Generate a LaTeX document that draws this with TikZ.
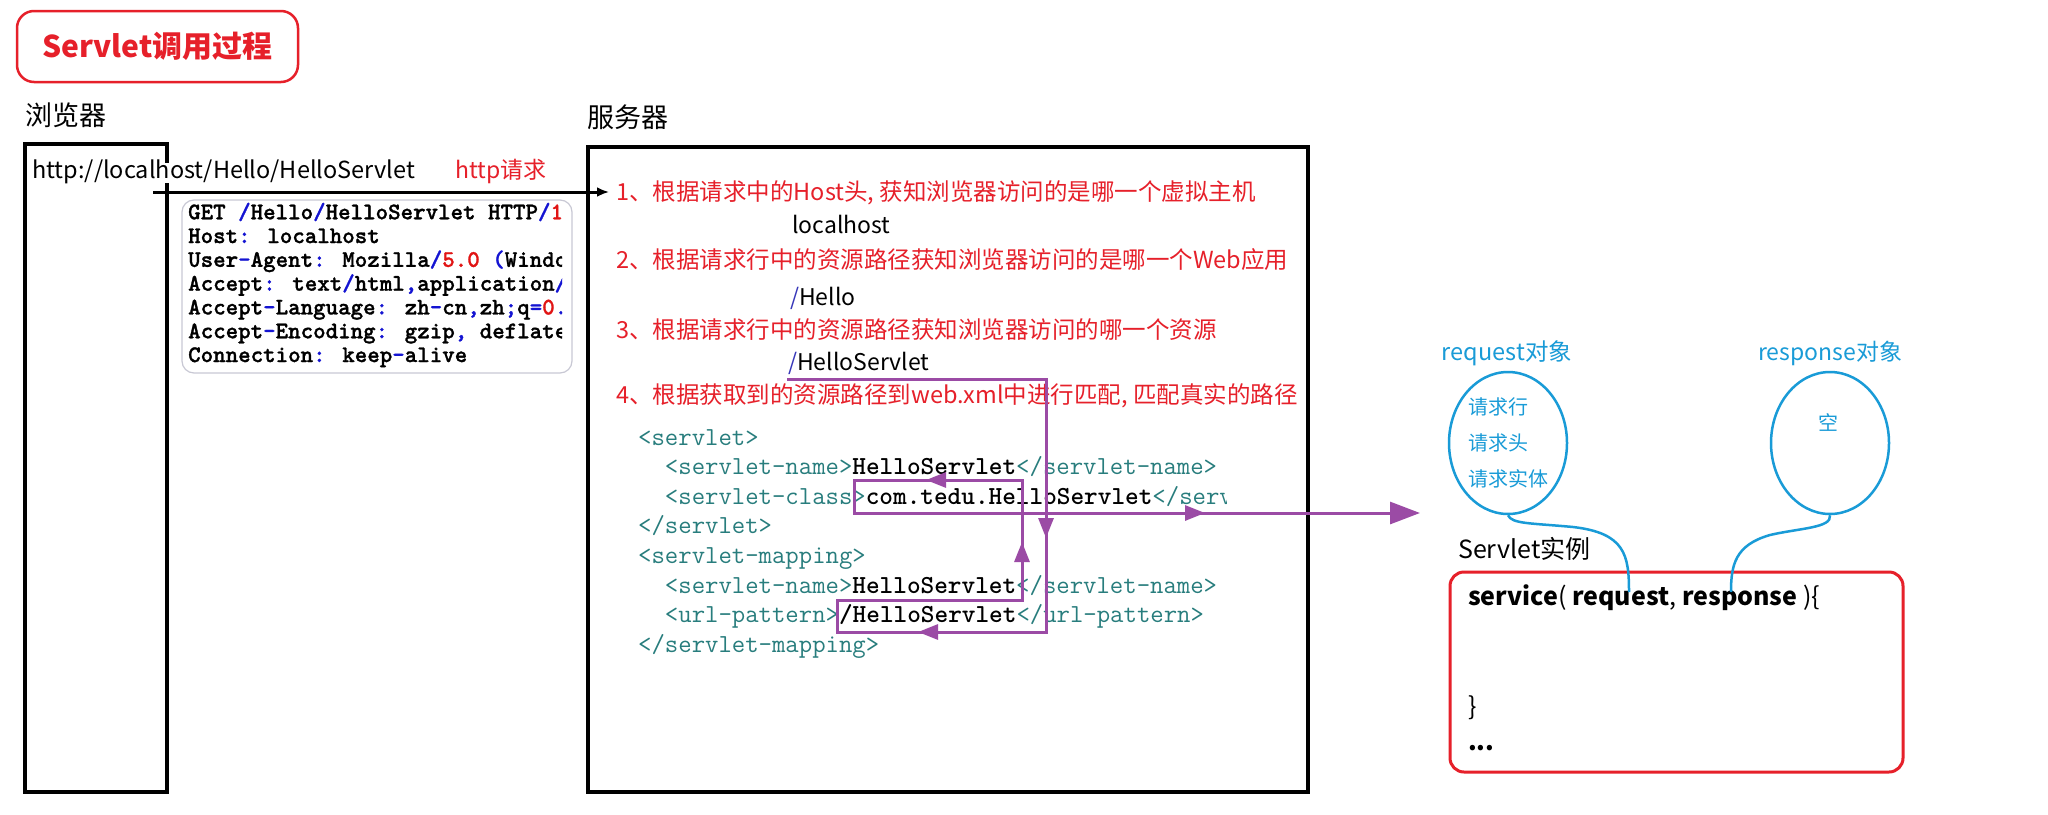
\documentclass[tikz,border=0pt]{standalone}
\usepackage{fontspec}
\setmainfont{Noto Sans CJK SC}
\newfontfamily\httpmono{lmmonolt10-bold.otf}[FakeBold=1.2]
\usetikzlibrary{arrows.meta,shapes.geometric,decorations.markings}

\definecolor{titlered}{RGB}{230,32,42}
\definecolor{objblue}{RGB}{25,155,215}
\definecolor{linkpurple}{RGB}{155,75,165}
\definecolor{xmlteal}{RGB}{40,125,125}
\definecolor{punctblue}{RGB}{20,20,210}
\definecolor{numred}{RGB}{225,20,20}
\definecolor{slashblue}{RGB}{55,55,185}
\definecolor{boxgray}{RGB}{200,200,212}

\newcommand{\pxsize}[1]{\fontsize{#1}{#1}\selectfont}
\newcommand{\hp}[1]{\textcolor{punctblue}{#1}}
\newcommand{\hn}[1]{\textcolor{numred}{#1}}
\newcommand{\xtag}[1]{\textcolor{xmlteal}{#1}}
\newcommand{\xval}[1]{\textbf{#1}}

\tikzset{
    txt/.style={anchor=west, inner sep=0pt, text height=1em, text depth=0em},
    monotxt/.style={anchor=west, inner sep=0pt, text height=0.85em, text depth=0em},
    steptxt/.style={txt, text=titlered, font=\pxsize{23.5}},
    anstxt/.style={txt, font=\pxsize{23}},
    framebox/.style={draw, line width=3.5pt, inner sep=0pt},
    titlebox/.style={draw=titlered, line width=2.5pt, rounded corners=17pt,
        minimum width=281pt, minimum height=71pt, text=titlered,
        font=\pxsize{30}\bfseries},
    objellipse/.style={ellipse, draw=objblue, line width=2.5pt, inner sep=0pt,
        minimum width=118pt, minimum height=142pt},
    objline/.style={draw=objblue, line width=2.5pt},
    link/.style={draw=linkpurple, line width=3pt, line join=miter},
    mid/.tip={Triangle[length=20pt,width=15pt]},
}

\begin{document}
\begin{tikzpicture}[x=1pt, y=-1pt]
    \fill[white] (0,0) rectangle (2048,814);
    \useasboundingbox (0,0) rectangle (2048,814);

    % title
    \node[titlebox] (title) at (157.5,46.5) {Servlet调用过程};

    % browser
    \node[txt, font=\pxsize{27}] (browserlabel) at (25,120) {浏览器};
    \node[framebox, minimum width=142pt, minimum height=648pt] (browser) at (96,468) {};
    \node[txt, fill=white, inner ysep=5pt, font=\pxsize{23.5}] (url) at (32,173) {http://localhost/Hello/HelloServlet};
    \node[txt, font=\pxsize{23}, text=titlered] (httpreq) at (455,173) {http请求};

    % request message
    \node[draw=boxgray, line width=1.2pt, rounded corners=12pt,
        minimum width=390pt, minimum height=173pt] (httpbox) at (377,286.5) {};
    \begin{scope}
        \clip (182,200) rectangle (562,373);
        \foreach \ln [count=\i from 0] in {
            {GET \hp{/}Hello\hp{/}HelloServlet HTTP\hp{/}\hn{1}},
            {Host\hp{:} localhost},
            {User\hp{-}Agent\hp{:} Mozilla\hp{/}\hn{5.0} \hp{(}Windo},
            {Accept\hp{:} text\hp{/}html\hp{,}application\hp{/}},
            {Accept\hp{-}Language\hp{:} zh\hp{-}cn\hp{,}zh\hp{;}q\hp{=}\hn{0}\hp{.}},
            {Accept\hp{-}Encoding\hp{:} gzip\hp{,} deflate},
            {Connection\hp{:} keep\hp{-}alive}}
            \node[monotxt, font=\httpmono\pxsize{23.8}] (httpline\i) at (188,215+23.8*\i) {\ln};
    \end{scope}

    % request arrow
    \coordinate (reqstart) at (153,192);
    \coordinate (reqend) at (609,192);
    \draw[line width=3pt, -{Latex[length=12pt,width=10pt]}] (reqstart) -- (reqend);

    % server
    \node[txt, font=\pxsize{27}] (serverlabel) at (587,122) {服务器};
    \node[framebox, minimum width=720pt, minimum height=645pt] (server) at (948,469.5) {};

    \node[steptxt] (step1) at (616,195) {1、根据请求中的Host头, 获知浏览器访问的是哪一个虚拟主机};
    \node[anstxt] (ans1) at (792,228) {localhost};
    \node[steptxt] (step2) at (616,263) {2、根据请求行中的资源路径获知浏览器访问的是哪一个Web应用};
    \node[anstxt] (ans2) at (790,300) {\textcolor{slashblue}{/}Hello};
    \node[steptxt] (step3) at (616,333) {3、根据请求行中的资源路径获知浏览器访问的哪一个资源};
    \node[anstxt] (ans3) at (788,365) {\textcolor{slashblue}{/}HelloServlet};
    \node[steptxt] (step4) at (616,398) {4、根据获取到的资源路径到web.xml中进行匹配, 匹配真实的路径};

    % web.xml
    \begin{scope}
        \clip (600,420) rectangle (1226,670);
        \foreach \ln [count=\i from 0] in {
            {\xtag{<servlet>}},
            {\phantom{xx}\xtag{<servlet-name>}\xval{HelloServlet}\xtag{</servlet-name>}},
            {\phantom{xx}\xtag{<servlet-class>}\xval{com.tedu.HelloServlet}\xtag{</serv}},
            {\xtag{</servlet>}},
            {\xtag{<servlet-mapping>}},
            {\phantom{xx}\xtag{<servlet-name>}\xval{HelloServlet}\xtag{</servlet-name>}},
            {\phantom{xx}\xtag{<url-pattern>}\xval{/HelloServlet}\xtag{</url-pattern>}},
            {\xtag{</servlet-mapping>}}}
            \node[txt, font=\ttfamily\pxsize{26}] (xmlline\i) at (638,440+29.6*\i) {\ln};
    \end{scope}

    % matching path
    \coordinate (urlunder) at (787,379);
    \coordinate (urlturn) at (1046,379);
    \coordinate (patbr) at (1046,632);
    \coordinate (patbl) at (837,632);
    \coordinate (pattl) at (837,600);
    \coordinate (namebr) at (1022,600);
    \coordinate (classtr) at (1022,480);
    \coordinate (classtl) at (854,480);
    \coordinate (classbl) at (854,513);
    \coordinate (toinst) at (1420,513);
    \draw[link, -{Triangle[length=30pt,width=22pt]}, postaction={decorate},
        decoration={markings,
            mark=at position 418pt with {\arrow{mid}},
            mark=at position 640pt with {\arrow{mid}},
            mark=at position 996pt with {\arrow{mid}},
            mark=at position 1154pt with {\arrow{mid}},
            mark=at position 1610pt with {\arrow{mid}}}]
        (urlunder) -- (urlturn) -- (patbr) -- (patbl) -- (pattl) -- (namebr)
        -- (classtr) -- (classtl) -- (classbl) -- (toinst);

    % request / response objects
    \node[font=\pxsize{23.5}, text=objblue] (reqlabel) at (1507,353) {request对象};
    \node[font=\pxsize{23}, text=objblue] (reslabel) at (1830,353) {response对象};
    \node[objellipse, align=left, text=objblue, font={\fontsize{20}{36}\selectfont}] (reqobj) at (1508,443) {请求行\\请求头\\请求实体};
    \node[objellipse] (resobj) at (1830,443) {};
    \node[font=\pxsize{20}, text=objblue] (emptytxt) at (1828,422) {空};

    % servlet instance
    \node[txt, font=\pxsize{25}] (instlabel) at (1458,553) {Servlet实例};
    \node[draw=titlered, line width=3pt, rounded corners=14pt,
        minimum width=453pt, minimum height=200pt] (svcbox) at (1676.5,672) {};
    \node[txt, font=\pxsize{25}] (svcline) at (1468,600) {\textbf{service}( \textbf{request}, \textbf{response} )\{};
    \node[txt, font=\pxsize{25}] (svcend) at (1468,710) {\}};
    \node[txt, font=\pxsize{25}] (svcmore) at (1468,745) {\textbf{...}};

    \coordinate (reqarg) at (1629,592);
    \coordinate (resarg) at (1731,592);
    \draw[objline] (reqobj.south) .. controls (1512,524) and (1530,523) .. (1573,527)
        .. controls (1625,533) and (1629,555) .. (reqarg);
    \draw[objline] (resobj.south) .. controls (1832,528) and (1800,528) .. (1770,535)
        .. controls (1735,545) and (1731,565) .. (resarg);
\end{tikzpicture}
\end{document}
